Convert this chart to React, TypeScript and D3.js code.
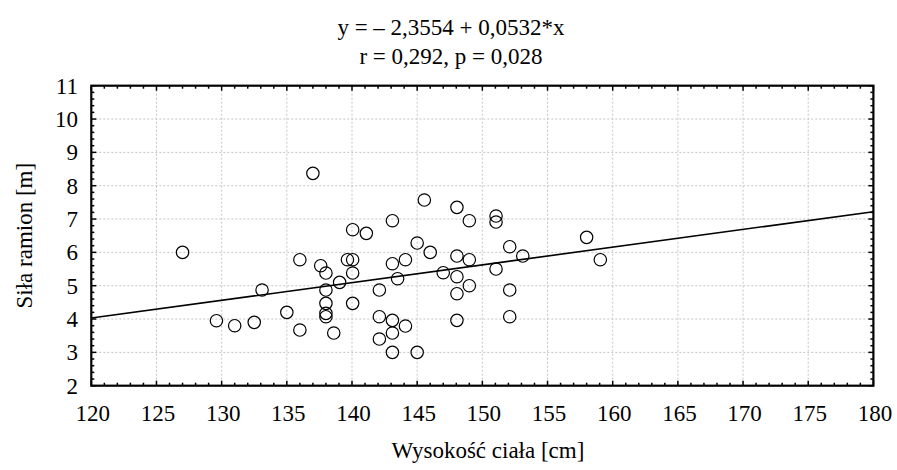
import React from "react";
import * as d3 from "d3";

const heights = [127, 129.6, 131, 132.5, 133.1, 135, 136, 136, 137, 137.6, 138, 138, 138, 138, 138, 138.6, 139.05, 139.65, 140.05, 140.05, 140.05, 140.05, 141.1, 142.1, 142.1, 142.1, 143.1, 143.1, 143.1, 143.1, 143.1, 143.5, 144.1, 144.1, 145, 145, 145.55, 146, 147, 148.05, 148.05, 148.05, 148.05, 148.05, 149, 149, 149, 151.05, 151.05, 151.05, 152.1, 152.1, 152.1, 153.1, 158, 159.05];
const strength = [6.0, 3.95, 3.8, 3.9, 4.87, 4.2, 5.78, 3.67, 8.37, 5.6, 5.38, 4.87, 4.47, 4.17, 4.07, 3.58, 5.1, 5.78, 5.78, 6.68, 5.38, 4.47, 6.57, 4.87, 4.07, 3.4, 6.95, 5.66, 3.96, 3.58, 3.0, 5.21, 5.78, 3.79, 6.28, 3.0, 7.57, 6.0, 5.39, 7.35, 5.89, 5.27, 4.76, 3.96, 6.95, 5.78, 5.0, 7.09, 6.91, 5.5, 6.17, 4.87, 4.07, 5.89, 6.45, 5.78];
const xTicks = [120, 125, 130, 135, 140, 145, 150, 155, 160, 165, 170, 175, 180];
const yTicks = [2, 3, 4, 5, 6, 7, 8, 9, 10, 11];
const intercept = -2.3554;
const slope = 0.0532;
const titleLines = ["y = – 2,3554 + 0,0532*x", "r = 0,292, p = 0,028"];
const xLabel = "Wysokość ciała [cm]";
const yLabel = "Siła ramion [m]";

const W = 897, H = 470;
const L = 91.3, R = 873.4, T = 85.7, B = 385.7;
const FONT = '"Liberation Serif", "Times New Roman", "DejaVu Serif", serif';

export default function App() {
  const x = d3.scaleLinear().domain([120, 180]).range([L, R]);
  const y = d3.scaleLinear().domain([2, 11]).range([B, T]);
  const xMinor = d3.range(120, 180.001, 1).filter((v) => !xTicks.includes(Math.round(v)));
  const yMinor = d3.range(2, 11.0001, 0.2).filter((v) => Math.abs(v - Math.round(v)) > 0.01);
  const line = d3.line<number>().x((d) => x(d)).y((d) => y(intercept + slope * d));
  const maj = 5, mn = 3;
  const txt: React.CSSProperties = { fontFamily: FONT };
  return (
    <div style={{ position: "absolute", left: 0, top: 0 }}>
      <svg width={W} height={H} style={{ display: "block", background: "#fff" }}>
        <g stroke="#c4c4c4" strokeWidth={1} strokeDasharray="2,2">
          {xTicks.slice(1, -1).map((t) => (
            <line key={"gx" + t} x1={x(t)} x2={x(t)} y1={T} y2={B} />
          ))}
          {yTicks.slice(1, -1).map((t) => (
            <line key={"gy" + t} x1={L} x2={R} y1={y(t)} y2={y(t)} />
          ))}
        </g>
        <path d={line([120, 180]) || ""} stroke="#000" strokeWidth={1.6} fill="none" />
        <g fill="none" stroke="#000" strokeWidth={1.2}>
          {heights.map((h, i) => (
            <circle key={i} cx={x(h)} cy={y(strength[i])} r={6.2} />
          ))}
        </g>
        <g stroke="#000" strokeWidth={1.5}>
          {xTicks.map((t) => (
            <g key={"xt" + t}>
              <line x1={x(t)} x2={x(t)} y1={B} y2={B - maj} />
              <line x1={x(t)} x2={x(t)} y1={T} y2={T + maj} />
            </g>
          ))}
          {xMinor.map((t) => (
            <g key={"xm" + t}>
              <line x1={x(t)} x2={x(t)} y1={B} y2={B - mn} />
              <line x1={x(t)} x2={x(t)} y1={T} y2={T + mn} />
            </g>
          ))}
          {yTicks.map((t) => (
            <g key={"yt" + t}>
              <line x1={L} x2={L + maj} y1={y(t)} y2={y(t)} />
              <line x1={R} x2={R - maj} y1={y(t)} y2={y(t)} />
            </g>
          ))}
          {yMinor.map((t, i) => (
            <g key={"ym" + i}>
              <line x1={L} x2={L + mn} y1={y(t)} y2={y(t)} />
              <line x1={R} x2={R - mn} y1={y(t)} y2={y(t)} />
            </g>
          ))}
        </g>
        <rect x={L} y={T} width={R - L} height={B - T} fill="none" stroke="#000" strokeWidth={2.2} />
        <g fontSize={23} fill="#000" style={txt}>
          {xTicks.map((t) => (
            <text key={"xl" + t} x={x(t) + 1.5} y={421} textAnchor="middle" style={txt}>{t}</text>
          ))}
          {yTicks.map((t) => (
            <text key={"yl" + t} x={78} y={y(t) + 7.8} textAnchor="end" style={txt}>{t}</text>
          ))}
        </g>
        <g fontSize={23} fill="#000" textAnchor="middle" style={txt}>
          <text x={451} y={35} style={txt}>{titleLines[0]}</text>
          <text x={451} y={64} style={txt}>{titleLines[1]}</text>
          <text x={488} y={458} style={txt}>{xLabel}</text>
          <text transform={`translate(32, ${(T + B) / 2}) rotate(-90)`} style={txt}>{yLabel}</text>
        </g>
      </svg>
    </div>
  );
}
